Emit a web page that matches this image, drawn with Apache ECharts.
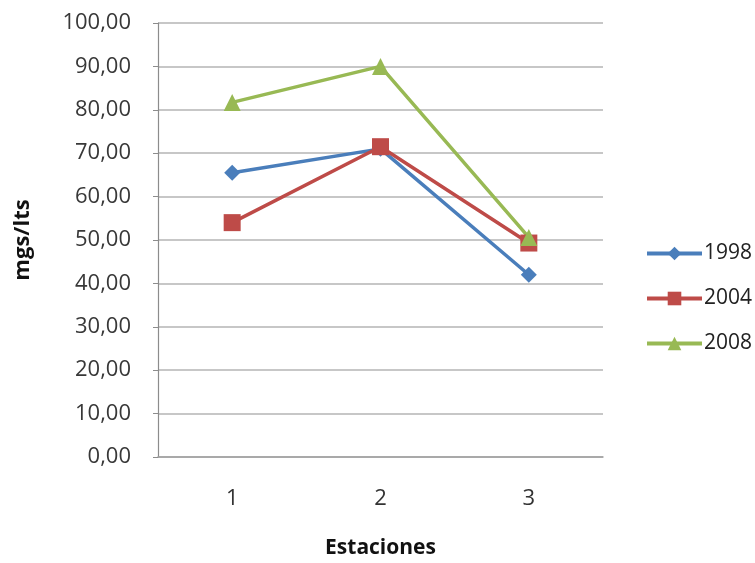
<!DOCTYPE html>
<html>
<head>
<meta charset="utf-8">
<script src="https://cdn.jsdelivr.net/npm/echarts@6/dist/echarts.min.js"></script>
<style>
  html, body { margin: 0; padding: 0; background: #ffffff; }
  #chart { width: 755px; height: 563px; }
</style>
</head>
<body>
<div id="chart"></div>
<script>
// Estaciones de muestreo y concentraciones (mgs/lts) por año
const estaciones = ['1', '2', '3'];
const serie1998 = [65.5, 71.0, 42.0];
const serie2004 = [54.0, 71.5, 49.3];
const serie2008 = [81.7, 90.0, 50.6];
const nombres = ['1998', '2004', '2008'];

const FONT = '"Open Sans", "Noto Sans", sans-serif';
const colores = ['#4a7ebb', '#be4b48', '#98b954'];

const chart = echarts.init(document.getElementById('chart'), null, { renderer: 'canvas' });

function linea(nombre, datos, color, simbolo, tam) {
  return {
    name: nombre,
    type: 'line',
    data: datos,
    symbol: simbolo,
    symbolSize: tam,
    showAllSymbol: true,
    lineStyle: { color: color, width: 3.5 },
    itemStyle: { color: color, borderWidth: 0 },
    emphasis: { disabled: true },
    animation: false
  };
}

chart.setOption({
  animation: false,
  grid: {
    left: 158, right: 152, top: 23, bottom: 106,
    containLabel: false,
    outerBoundsMode: 'none'
  },
  legend: {
    orient: 'vertical',
    left: 640,
    top: 238,
    itemGap: 24,
    itemWidth: 55,
    itemHeight: 17,
    lineStyle: { width: 4 },
    textStyle: { fontFamily: FONT, fontSize: 21, color: '#222', padding: [0, 0, 0, -3] },
    data: nombres
  },
  xAxis: {
    type: 'category',
    data: estaciones,
    boundaryGap: true,
    name: 'Estaciones',
    nameLocation: 'middle',
    nameGap: 81,
    nameTextStyle: { fontFamily: FONT, fontSize: 21, fontWeight: 'bold', color: '#111' },
    axisLine: { show: true, lineStyle: { color: '#a0a0a0', width: 1.5 } },
    axisTick: { show: false },
    axisLabel: { fontFamily: FONT, fontSize: 22, color: '#333', margin: 31 },
    splitLine: { show: false }
  },
  yAxis: {
    type: 'value',
    min: 0,
    max: 100,
    interval: 10,
    name: 'mgs/lts',
    nameLocation: 'middle',
    nameGap: 124,
    nameRotate: 90,
    nameTextStyle: { fontFamily: FONT, fontSize: 22, fontWeight: 'bold', color: '#111' },
    axisLine: { show: true, lineStyle: { color: '#8c8c8c', width: 1.2 } },
    axisTick: { show: true, inside: false, length: 5, lineStyle: { color: '#8c8c8c' } },
    axisLabel: {
      fontFamily: FONT, fontSize: 22, color: '#383838', margin: 27,
      formatter: v => v.toFixed(2).replace('.', ',')
    },
    splitLine: { show: true, lineStyle: { color: '#b4b4b4', width: 1.5 } }
  },
  series: [
    linea(nombres[0], serie1998, colores[0], 'diamond', 16),
    linea(nombres[1], serie2004, colores[1], 'rect', 17),
    linea(nombres[2], serie2008, colores[2], 'triangle', 17)
  ]
});
</script>
</body>
</html>
